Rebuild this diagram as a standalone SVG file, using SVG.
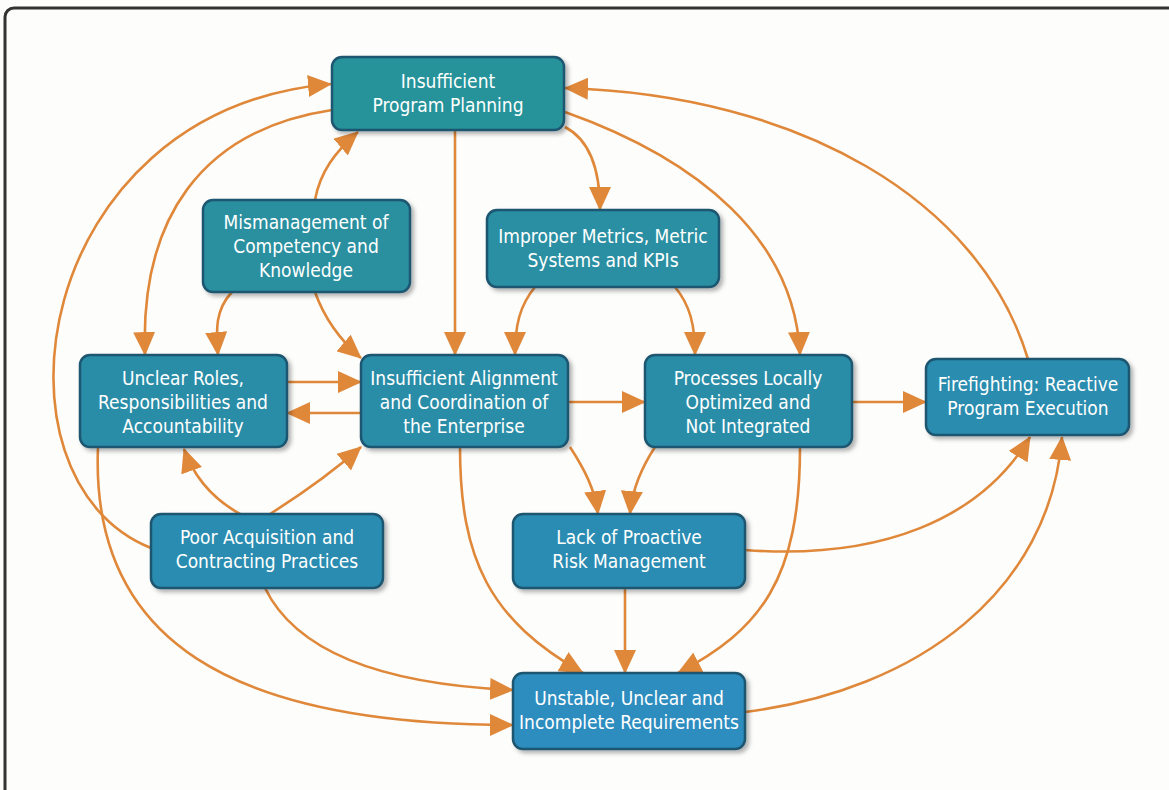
<svg xmlns="http://www.w3.org/2000/svg" width="1169" height="790" viewBox="0 0 1169 790">
  <style>
    .node rect { stroke: #1d5670; stroke-width: 2.5; filter: url(#shadow); }
    .node text { fill: #ffffff; font-family: "Liberation Sans Narrow", "DejaVu Sans Condensed", "Roboto Condensed", sans-serif; font-stretch: condensed; font-size: 19px; text-anchor: middle; }
    .link { fill: none; stroke: #e0883a; stroke-width: 2.6; marker-end: url(#arrow); }
  </style>
  <defs>
    <marker id="arrow" viewBox="0 0 24 22" refX="23" refY="11" markerWidth="24" markerHeight="22" markerUnits="userSpaceOnUse" orient="auto">
      <path d="M0,0 L24,11 L0,22 z" fill="#e0883a"/>
    </marker>
    <filter id="shadow" x="-10%" y="-10%" width="125%" height="135%">
      <feDropShadow dx="3" dy="3" stdDeviation="2" flood-color="#000" flood-opacity="0.3"/>
    </filter>
  </defs>

  <rect x="0" y="0" width="1169" height="790" fill="#fdfdfc"/>
  <!-- outer frame -->
  <rect x="5" y="8" width="1180" height="800" rx="9" fill="none" stroke="#333333" stroke-width="3"/>

  <g id="connectors">
    <path class="link" d="M151,548 C-20,480 30,110 331,84"/>
    <path class="link" d="M332,110 C200,130 140,220 145,355"/>
    <path class="link" d="M232,292 C215,310 216,330 218,355"/>
    <path class="link" d="M315,200 C320,172 335,152 358,132"/>
    <path class="link" d="M315,292 C325,320 340,340 361,358"/>
    <path class="link" d="M455,130 L455,355"/>
    <path class="link" d="M565,127 C590,140 600,170 600,210"/>
    <path class="link" d="M565,112 C700,160 795,240 800,355"/>
    <path class="link" d="M1028,359 C980,200 800,95 565,88"/>
    <path class="link" d="M535,287 C520,305 515,325 515,355"/>
    <path class="link" d="M675,287 C690,305 695,325 695,355"/>
    <path class="link" d="M287,382 L361,382"/>
    <path class="link" d="M361,413 L287,413"/>
    <path class="link" d="M568,402 L645,402"/>
    <path class="link" d="M852,402 L926,402"/>
    <path class="link" d="M240,514 C215,500 195,480 184,449"/>
    <path class="link" d="M270,514 C300,495 335,470 361,447"/>
    <path class="link" d="M570,447 C585,470 595,490 598,514"/>
    <path class="link" d="M655,447 C640,470 632,490 630,514"/>
    <path class="link" d="M745,550 C880,560 980,520 1030,437"/>
    <path class="link" d="M625,588 L625,673"/>
    <path class="link" d="M460,447 C460,560 490,620 583,673"/>
    <path class="link" d="M800,447 C800,580 760,630 678,673"/>
    <path class="link" d="M265,588 C300,660 400,685 513,690"/>
    <path class="link" d="M98,447 C90,640 230,725 513,725"/>
    <path class="link" d="M745,712 C920,690 1050,590 1062,437"/>
  </g>

  <g id="planning" class="node">
    <rect x="332" y="57" width="232" height="73" rx="10" fill="#27939a"/>
    <text x="448" y="88">Insufficient</text>
    <text x="448" y="112">Program Planning</text>
  </g>
  <g id="competency" class="node">
    <rect x="203" y="200" width="207" height="92" rx="10" fill="#2a909f"/>
    <text x="306" y="229">Mismanagement of</text>
    <text x="306" y="253">Competency and</text>
    <text x="306" y="277">Knowledge</text>
  </g>
  <g id="metrics" class="node">
    <rect x="487" y="210" width="232" height="77" rx="10" fill="#2a8fa2"/>
    <text x="603" y="243">Improper Metrics, Metric</text>
    <text x="603" y="267">Systems and KPIs</text>
  </g>
  <g id="roles" class="node">
    <rect x="80" y="355" width="207" height="92" rx="10" fill="#2a8da8"/>
    <text x="183" y="385">Unclear Roles,</text>
    <text x="183" y="409">Responsibilities and</text>
    <text x="183" y="433">Accountability</text>
  </g>
  <g id="alignment" class="node">
    <rect x="361" y="355" width="207" height="92" rx="10" fill="#2a8da8"/>
    <text x="464" y="385">Insufficient Alignment</text>
    <text x="464" y="409">and Coordination of</text>
    <text x="464" y="433">the Enterprise</text>
  </g>
  <g id="processes" class="node">
    <rect x="645" y="355" width="207" height="92" rx="10" fill="#2a8da8"/>
    <text x="748" y="385">Processes Locally</text>
    <text x="748" y="409">Optimized and</text>
    <text x="748" y="433">Not Integrated</text>
  </g>
  <g id="firefighting" class="node">
    <rect x="926" y="359" width="203" height="76" rx="10" fill="#2b8cae"/>
    <text x="1028" y="391">Firefighting: Reactive</text>
    <text x="1028" y="415">Program Execution</text>
  </g>
  <g id="acquisition" class="node">
    <rect x="151" y="514" width="232" height="74" rx="10" fill="#2b8cb0"/>
    <text x="267" y="544">Poor Acquisition and</text>
    <text x="267" y="568">Contracting Practices</text>
  </g>
  <g id="risk" class="node">
    <rect x="513" y="514" width="232" height="74" rx="10" fill="#2b8cb2"/>
    <text x="629" y="544">Lack of Proactive</text>
    <text x="629" y="568">Risk Management</text>
  </g>
  <g id="requirements" class="node">
    <rect x="513" y="673" width="232" height="76" rx="10" fill="#2d8dbf"/>
    <text x="629" y="705">Unstable, Unclear and</text>
    <text x="629" y="729">Incomplete Requirements</text>
  </g>
</svg>
